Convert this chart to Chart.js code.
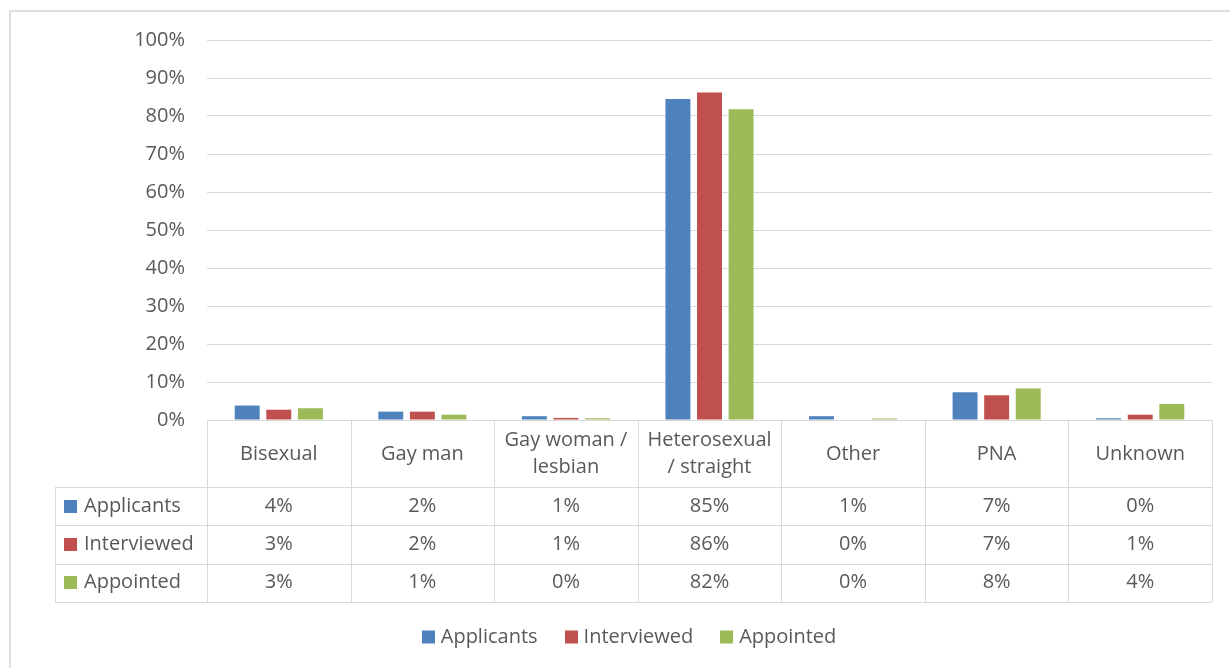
<!DOCTYPE html>
<html>
<head>
<meta charset="utf-8">
<script src="https://cdn.jsdelivr.net/npm/chart.js@4"></script>
<style>
html, body { margin: 0; padding: 0; background: #fff; }
#frame { position: absolute; left: 9px; top: 10px; width: 1300px; height: 700px; border-left: 2px solid #dedede; border-top: 2px solid #dedede; }
#chart { position: absolute; left: 0; top: 0; }
</style>
</head>
<body>
<div id="frame"></div>
<canvas id="chart" width="1230" height="668"></canvas>
<script>
// categories (multi-line where the table wraps them)
var categories = [['Bisexual'], ['Gay man'], ['Gay woman /', 'lesbian'], ['Heterosexual', '/ straight'], ['Other'], ['PNA'], ['Unknown']];
// values in % (table shows them rounded)
var applicants = [3.8, 2.2, 1.0, 84.5, 1.0, 7.3, 0.45];
var interviewed = [2.7, 2.2, 0.55, 86.2, 0, 6.5, 1.4];
var appointed = [3.1, 1.4, 0.45, 81.8, 0.4, 8.3, 4.2];
var seriesNames = ['Applicants', 'Interviewed', 'Appointed'];
var seriesColors = ['#4f81bd', '#c0504d', '#9bbb59'];

var font = '20px "Open Sans"';
var textColor = '#595959';
var lineColor = '#d9d9d9';

function hline(ctx, x1, x2, y) {
    y = Math.round(y) + 0.5;
    ctx.beginPath(); ctx.moveTo(x1, y); ctx.lineTo(x2, y); ctx.stroke();
}
function vline(ctx, x, y1, y2) {
    x = Math.round(x) + 0.5;
    ctx.beginPath(); ctx.moveTo(x, y1); ctx.lineTo(x, y2); ctx.stroke();
}

// data table under the plot + legend at the bottom
var tablePlugin = {
    id: 'dataTable',
    afterDraw: function(chart) {
        var ctx = chart.ctx;
        var xs = chart.scales.x;
        var area = chart.chartArea;
        var n = chart.data.labels.length;
        var colW = (area.right - area.left) / n;
        var tableLeft = 55;
        var headerBottom = 487;
        var rowH = 38.3;
        var tableBottom = headerBottom + rowH * 3;

        ctx.save();
        ctx.strokeStyle = lineColor;
        ctx.lineWidth = 1;
        for (var i = 0; i <= n; i++) {
            vline(ctx, area.left + i * colW, area.bottom, tableBottom);
        }
        vline(ctx, tableLeft, headerBottom, tableBottom);
        for (var r = 0; r <= 3; r++) {
            hline(ctx, tableLeft, area.right, headerBottom + r * rowH);
        }

        ctx.font = font;
        ctx.fillStyle = textColor;
        ctx.textBaseline = 'middle';
        ctx.textAlign = 'center';
        var headMid = (area.bottom + headerBottom) / 2 + 0.5;
        chart.data.labels.forEach(function(lab, i) {
            var cx = xs.getPixelForValue(i);
            if (lab.length === 1) {
                ctx.fillText(lab[0], cx, headMid);
            } else {
                ctx.fillText(lab[0], cx, headMid - 14);
                ctx.fillText(lab[1], cx, headMid + 13);
            }
        });

        chart.data.datasets.forEach(function(ds, r) {
            var cy = headerBottom + rowH * r + rowH / 2;
            ctx.fillStyle = ds.backgroundColor;
            ctx.fillRect(64, Math.round(cy - 6.5), 13, 13);
            ctx.fillStyle = textColor;
            ctx.textAlign = 'left';
            ctx.fillText(ds.label, 84, cy);
            ctx.textAlign = 'center';
            ds.data.forEach(function(v, i) {
                ctx.fillText(Math.round(v) + '%', xs.getPixelForValue(i), cy);
            });
        });

        // legend
        var widths = chart.data.datasets.map(function(ds) { return 13 + 6 + ctx.measureText(ds.label).width; });
        var total = widths.reduce(function(a, b) { return a + b; }, 0) + 27 * (widths.length - 1);
        var lx = 629 - total / 2;
        var ly = 637;
        chart.data.datasets.forEach(function(ds, k) {
            ctx.fillStyle = ds.backgroundColor;
            ctx.fillRect(Math.round(lx), ly - 6.5, 13, 13);
            ctx.fillStyle = textColor;
            ctx.textAlign = 'left';
            ctx.fillText(ds.label, lx + 19, ly);
            lx += widths[k] + 27;
        });
        ctx.restore();
    }
};

var seriesData = [applicants, interviewed, appointed];
var datasets = seriesNames.map(function(name, k) {
    return {
        label: name,
        data: seriesData[k],
        backgroundColor: seriesColors[k],
        categoryPercentage: 0.66,
        barPercentage: 0.79
    };
});

var ctx = document.getElementById('chart').getContext('2d');
var myChart = new Chart(ctx, {
    type: 'bar',
    data: { labels: categories, datasets: datasets },
    options: {
        responsive: false,
        animation: false,
        devicePixelRatio: 1,
        layout: { padding: { left: 0, right: 18, top: 40, bottom: 248 } },
        plugins: { legend: { display: false }, tooltip: { enabled: false } },
        scales: {
            x: { display: false },
            y: {
                min: 0,
                max: 100,
                afterFit: function(scale) { scale.width = 207; },
                ticks: {
                    stepSize: 10,
                    padding: 22,
                    color: textColor,
                    font: { family: 'Open Sans', size: 20 },
                    callback: function(v) { return v + '%'; }
                },
                grid: { color: lineColor, drawTicks: false, lineWidth: 1 },
                border: { display: false }
            }
        }
    },
    plugins: [tablePlugin]
});
</script>
</body>
</html>
